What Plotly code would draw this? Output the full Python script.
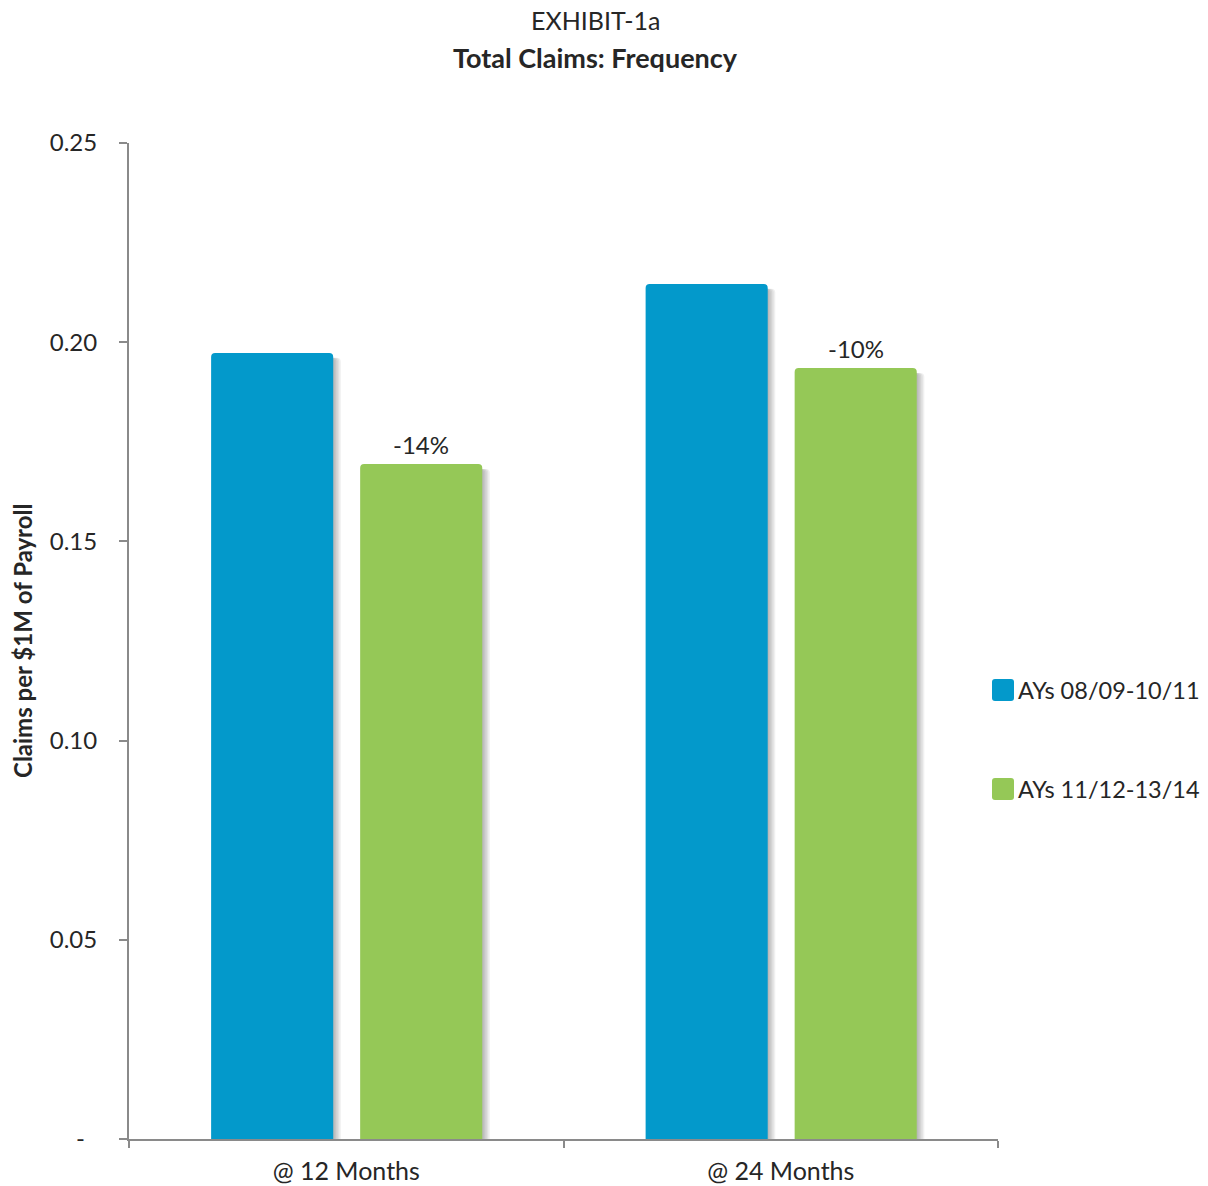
import plotly.graph_objects as go

# ---- data ----
categories = ["@ 12 Months", "@ 24 Months"]
series_names = ["AYs 08/09-10/11", "AYs 11/12-13/14"]
prior_freq = [0.1973, 0.2146]
recent_freq = [0.1694, 0.1935]
y_tick_vals = [0, 0.05, 0.10, 0.15, 0.20, 0.25]
y_tick_text = ["-\u00a0\u00a0", "0.05", "0.10", "0.15", "0.20", "0.25"]

BLUE = "#0399CB"
GREEN = "#95C857"
TEXT = "#262626"
AXIS = "#8a8a8a"
FONT = "Lato"

W, H = 1208, 1186
L, R, T, B = 129, 210, 143, 47
PW, PH = W - L - R, H - T - B

BAR_W = 0.281
OFFSETS = [-0.311, 0.032]

pct_change = [f"{round((r / p - 1) * 100):.0f}%" for p, r in zip(prior_freq, recent_freq)]

fig = go.Figure()

# soft drop shadows to the right of each bar
for vals, off in ((prior_freq, OFFSETS[0]), (recent_freq, OFFSETS[1])):
    for k in range(1, 6):
        fig.add_trace(go.Bar(
            x=categories, y=[v - 0.0012 for v in vals],
            offset=off + k * 0.0035, width=BAR_W,
            marker=dict(color="rgba(0,0,0,0.06)", line=dict(width=0), cornerradius=4),
            hoverinfo="skip", showlegend=False,
        ))

fig.add_trace(go.Bar(
    x=categories, y=prior_freq, name=series_names[0],
    offset=OFFSETS[0], width=BAR_W,
    marker=dict(color=BLUE, line=dict(width=0), cornerradius=4),
    showlegend=False,
))
fig.add_trace(go.Bar(
    x=categories, y=recent_freq, name=series_names[1],
    offset=OFFSETS[1], width=BAR_W,
    marker=dict(color=GREEN, line=dict(width=0), cornerradius=4),
    showlegend=False,
))

def px_x(px):
    return (px - L) / PW

def px_y(py):
    return (H - B - py) / PH

annotations = [
    dict(text="EXHIBIT-1a", x=px_x(595), y=px_y(20), xref="paper", yref="paper",
         showarrow=False, xanchor="center", yanchor="middle",
         font=dict(family=FONT, size=25, color=TEXT)),
    dict(text="<b>Total Claims: Frequency</b>", x=px_x(595), y=px_y(57), xref="paper", yref="paper",
         showarrow=False, xanchor="center", yanchor="middle",
         font=dict(family=FONT, size=27, color=TEXT)),
    dict(text="<b>Claims per $1M of Payroll</b>", x=px_x(22), y=px_y(641), xref="paper", yref="paper",
         showarrow=False, xanchor="center", yanchor="middle", textangle=-90,
         font=dict(family=FONT, size=24, color=TEXT)),
]

# percentage change labels above the recent-period bars
bar_center_shift = (OFFSETS[1] + BAR_W / 2) * PW / len(categories)
for cat, val, lab in zip(categories, recent_freq, pct_change):
    annotations.append(dict(
        text=lab, x=cat, y=val, xref="x", yref="y", showarrow=False,
        xanchor="center", yanchor="middle", xshift=bar_center_shift, yshift=20,
        font=dict(family=FONT, size=24, color=TEXT),
    ))

shapes = []
legend_rows = [690, 789]
for name, color, cy in zip(series_names, [BLUE, GREEN], legend_rows):
    x0, x1 = 992, 1014
    y0, y1 = cy - 11, cy + 11
    r = 3
    path = (f"M{px_x(x0 + r)},{px_y(y0)} L{px_x(x1 - r)},{px_y(y0)} "
            f"Q{px_x(x1)},{px_y(y0)} {px_x(x1)},{px_y(y0 + r)} "
            f"L{px_x(x1)},{px_y(y1 - r)} Q{px_x(x1)},{px_y(y1)} {px_x(x1 - r)},{px_y(y1)} "
            f"L{px_x(x0 + r)},{px_y(y1)} Q{px_x(x0)},{px_y(y1)} {px_x(x0)},{px_y(y1 - r)} "
            f"L{px_x(x0)},{px_y(y0 + r)} Q{px_x(x0)},{px_y(y0)} {px_x(x0 + r)},{px_y(y0)} Z")
    shapes.append(dict(type="path", path=path, xref="paper", yref="paper",
                       fillcolor=color, line=dict(width=0)))
    annotations.append(dict(text=name, x=px_x(1016), y=px_y(cy), xref="paper", yref="paper",
                            showarrow=False, xanchor="left", yanchor="middle",
                            font=dict(family=FONT, size=23.5, color=TEXT)))

fig.update_layout(
    width=W, height=H,
    margin=dict(l=L, r=R, t=T, b=B, pad=0, autoexpand=False),
    paper_bgcolor="white", plot_bgcolor="white",
    barmode="overlay",
    showlegend=False,
    annotations=annotations,
    shapes=shapes,
    xaxis=dict(
        type="category", showgrid=False, zeroline=False, automargin=False,
        showline=True, linecolor=AXIS, linewidth=2,
        ticks="outside", tickson="boundaries", ticklen=7, tickwidth=2, tickcolor=AXIS,
        ticklabelstandoff=9,
        tickfont=dict(family=FONT, size=25, color=TEXT),
    ),
    yaxis=dict(
        range=[0, 0.25], showgrid=False, zeroline=False, automargin=False,
        showline=True, linecolor=AXIS, linewidth=2,
        ticks="outside", ticklen=8, tickwidth=2, tickcolor=AXIS,
        tickvals=y_tick_vals, ticktext=y_tick_text,
        ticklabelstandoff=17,
        tickfont=dict(family=FONT, size=24, color=TEXT),
    ),
)

fig.write_html("out.html")
